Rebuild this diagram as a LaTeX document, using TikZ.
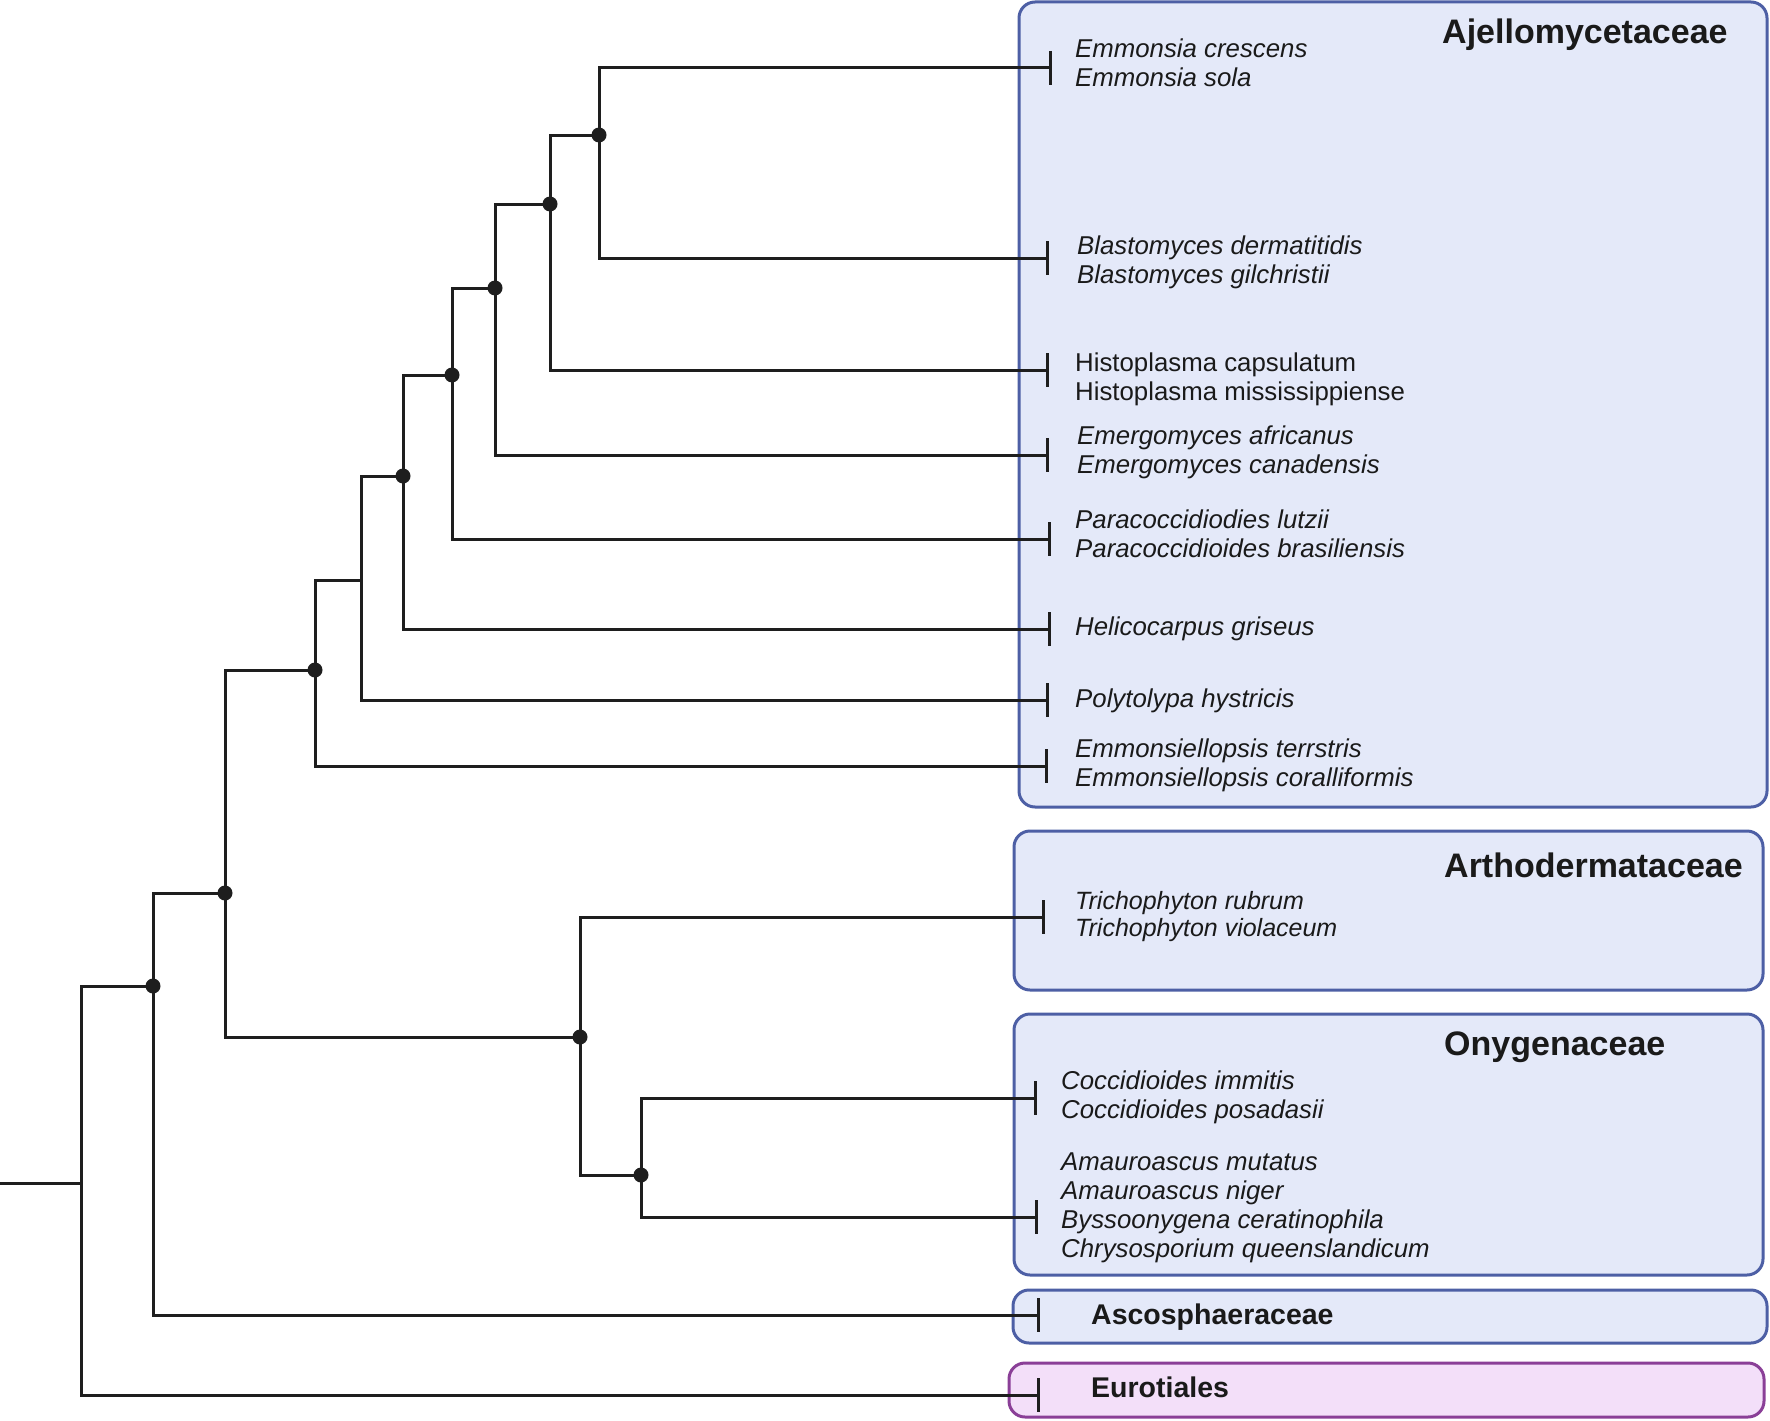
\documentclass[tikz,border=0pt]{standalone}
\usepackage{fontspec}
\setmainfont{Liberation Sans}
\usetikzlibrary{arrows.meta}
\definecolor{boxfill}{HTML}{E4E9F9}
\definecolor{boxline}{HTML}{4D5FA5}
\definecolor{eurofill}{HTML}{F3DFF9}
\definecolor{euroline}{HTML}{8A3F97}
\definecolor{treeline}{HTML}{1E1E1E}
\definecolor{txt}{HTML}{1A1A1A}
\begin{document}
\begin{tikzpicture}[x=1pt,y=-1pt,
  famgroup/.style={draw=boxline,fill=boxfill,line width=3pt,rounded corners=16pt},
  outgroup/.style={draw=euroline,fill=eurofill,line width=3pt,rounded corners=16pt},
  branch/.style={draw=treeline,line width=3pt},
  leafbranch/.style={branch,-{Bar[width=34pt,line width=3pt]}},
  clade/.style={circle,fill=treeline,minimum size=15pt,inner sep=0pt},
  species/.style={anchor=base west,inner sep=0pt,align=left,text=txt,
    font=\fontsize{25.8}{28.7}\selectfont\itshape},
  speciesup/.style={species,font=\fontsize{25.8}{28.7}\selectfont},
  family/.style={anchor=base west,inner sep=0pt,text=txt,
    font=\fontsize{34}{38}\selectfont\bfseries},
  smallfamily/.style={family,font=\fontsize{28.5}{32}\selectfont\bfseries}]
\useasboundingbox (0,0) rectangle (1770,1421);
% group boxes
\path[famgroup] (1019,2) rectangle (1767,807);
\path[famgroup] (1014,831) rectangle (1763,990);
\path[famgroup] (1014,1014) rectangle (1763,1275);
\path[famgroup] (1013,1290) rectangle (1767,1343);
\path[outgroup] (1009,1363) rectangle (1764,1417);
% family titles
\node[family] (tAje) at (1442,44) {Ajellomycetaceae};
\node[family] (tArt) at (1444,877) {Arthodermataceae};
\node[family] (tOny) at (1444,1055) {Onygenaceae};
\node[smallfamily] (tAsc) at (1091,1324) {Ascosphaeraceae};
\node[smallfamily] (tEur) at (1091,1397) {Eurotiales};
% species labels (anchored at the baseline of the last line)
\node[species] (sEmm) at (1075,86) {Emmonsia crescens\\Emmonsia sola};
\node[species] (sBla) at (1077,283) {Blastomyces dermatitidis\\Blastomyces gilchristii};
\node[speciesup] (sHis) at (1075,400) {Histoplasma capsulatum\\Histoplasma mississippiense};
\node[species] (sEme) at (1077,473) {Emergomyces africanus\\Emergomyces canadensis};
\node[species] (sPar) at (1075,557) {Paracoccidiodies lutzii\\Paracoccidioides brasiliensis};
\node[species] (sHel) at (1075,635) {Helicocarpus griseus};
\node[species] (sPol) at (1075,707) {Polytolypa hystricis};
\node[species] (sEms) at (1075,786) {Emmonsiellopsis terrstris\\Emmonsiellopsis coralliformis};
\node[species,font=\fontsize{25}{27}\selectfont\itshape] (sTri) at (1075,936) {Trichophyton rubrum\\Trichophyton violaceum};
\node[species] (sCoc) at (1061,1118) {Coccidioides immitis\\Coccidioides posadasii};
\node[species] (sAma) at (1061,1257) {Amauroascus mutatus\\Amauroascus niger\\Byssoonygena ceratinophila\\Chrysosporium queenslandicum};
% tree coordinates
\coordinate (stem) at (0,1183);
\coordinate (r) at (81,1183);
\coordinate (n9) at (153,986);
\coordinate (n8) at (225,893);
\coordinate (n7) at (315,670);
\coordinate (j6) at (361,580);
\coordinate (n5) at (403,476);
\coordinate (n4) at (452,375);
\coordinate (n3) at (495,288);
\coordinate (n2) at (550,204);
\coordinate (n1) at (599,135);
\coordinate (n10) at (580,1037);
\coordinate (n11) at (641,1175);
% leaf tips
\coordinate (lEmm) at (1052,68);
\coordinate (lBla) at (1049,258);
\coordinate (lHis) at (1049,370);
\coordinate (lEme) at (1049,455);
\coordinate (lPar) at (1051,539);
\coordinate (lHel) at (1051,629);
\coordinate (lPol) at (1049,700);
\coordinate (lEms) at (1048,766);
\coordinate (lTri) at (1045,917);
\coordinate (lCoc) at (1037,1098);
\coordinate (lAma) at (1038,1217);
\coordinate (lAsc) at (1040,1315);
\coordinate (lEur) at (1040,1395);
% branches
\draw[branch] (stem) -- (r);
\draw[branch] (r) |- (n9);
\draw[leafbranch] (r) |- (lEur);
\draw[branch] (n9) |- (n8);
\draw[leafbranch] (n9) |- (lAsc);
\draw[branch] (n8) |- (n7);
\draw[branch] (n8) |- (n10);
\draw[branch] (n7) |- (j6);
\draw[leafbranch] (n7) |- (lEms);
\draw[branch] (j6) |- (n5);
\draw[leafbranch] (j6) |- (lPol);
\draw[branch] (n5) |- (n4);
\draw[leafbranch] (n5) |- (lHel);
\draw[branch] (n4) |- (n3);
\draw[leafbranch] (n4) |- (lPar);
\draw[branch] (n3) |- (n2);
\draw[leafbranch] (n3) |- (lEme);
\draw[branch] (n2) |- (n1);
\draw[leafbranch] (n2) |- (lHis);
\draw[leafbranch] (n1) |- (lEmm);
\draw[leafbranch] (n1) |- (lBla);
\draw[leafbranch] (n10) |- (lTri);
\draw[branch] (n10) |- (n11);
\draw[leafbranch] (n11) |- (lCoc);
\draw[leafbranch] (n11) |- (lAma);
% clade dots
\foreach \c in {n9,n8,n7,n5,n4,n3,n2,n1,n10,n11}
  \node[clade] (d\c) at (\c) {};
\end{tikzpicture}
\end{document}
